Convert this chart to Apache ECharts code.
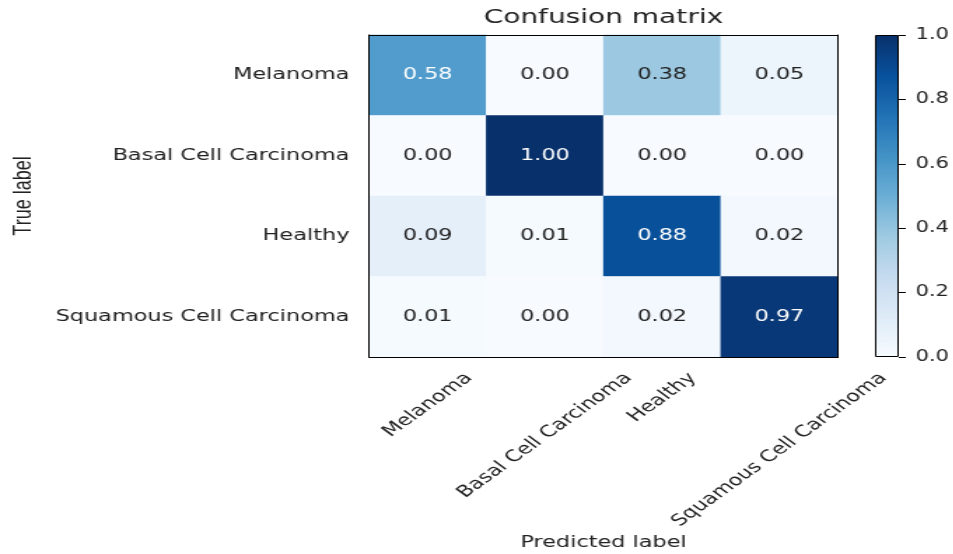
<!DOCTYPE html>
<html>
<head>
<meta charset="utf-8">
<title>Confusion matrix</title>
<script src="https://cdn.jsdelivr.net/npm/echarts@6.0.0/dist/echarts.min.js"></script>
<style>
  html, body { margin: 0; padding: 0; background: #fff; overflow: hidden; }
  /* the source picture is stretched sideways, so the chart is too */
  #chart { width: 681px; height: 554px; transform: scaleX(1.4); transform-origin: 0 0; }
</style>
</head>
<body>
<div id="chart"></div>
<script>
var classNames = ['Melanoma', 'Basal Cell Carcinoma', 'Healthy', 'Squamous Cell Carcinoma'];
// rows = true label, columns = predicted label
var rowMelanoma = [0.58, 0.00, 0.38, 0.05];
var rowBasal = [0.00, 1.00, 0.00, 0.00];
var rowHealthy = [0.09, 0.01, 0.88, 0.02];
var rowSquamous = [0.01, 0.00, 0.02, 0.97];
var colorbarTicks = [0.0, 0.2, 0.4, 0.6, 0.8, 1.0];
var bluesColors = ['#f7fbff', '#deebf7', '#c6dbef', '#9ecae1', '#6baed6', '#4292c6', '#2171b5', '#08519c', '#08306b'];

var FONT = 'DejaVu Sans',
  TEXT_COLOR = '#222';

function textWidth(text, font) {
  var ctx = document.createElement('canvas').getContext('2d');
  ctx.font = font;
  return ctx.measureText(text).width;
}

// rotated labels are centred under the tick like matplotlib does (ha='center'):
// shift every label straight down by half of its own rotated box,
// split into an along-text part (right padding) and a across-text part (top padding)
function rotatedLabels(names) {
  return names.map(function (name) {
    var box = (textWidth(name, '16px "' + FONT + '"') + 18.6) / Math.SQRT2,
      drop = 4 + box / 2,
      right = Math.SQRT2 * drop,
      top = Math.max(0, drop / Math.SQRT2 - 8);
    return {
      value: name,
      textStyle: { align: 'center', verticalAlign: 'top', padding: [top, right, 0, 0] }
    };
  });
}

function initMatrix(dom) {
  var myChart = echarts.init(dom),
    matrix = [rowMelanoma, rowBasal, rowHealthy, rowSquamous],
    cells = [],
    stops = [];
  matrix.forEach(function (row, i) {
    row.forEach(function (v, j) {
      cells.push({ value: [j, i, v], label: { color: v > 0.5 ? '#fff' : TEXT_COLOR } });
    });
  });
  bluesColors.slice().reverse().forEach(function (c, i) {
    stops.push({ offset: i / (bluesColors.length - 1), color: c });
  });

  var frameLine = { show: true, lineStyle: { color: '#000', width: 1 } },
    option = {
      animation: false,
      backgroundColor: '#fff',
      textStyle: { fontFamily: FONT },
      title: {
        text: 'Confusion matrix',
        left: 431,
        top: 8,
        padding: 0,
        textAlign: 'center',
        textStyle: { fontFamily: FONT, fontSize: 20, fontWeight: 'normal', color: TEXT_COLOR }
      },
      grid: [
        { left: 263.6, top: 35, width: 335, height: 322, outerBoundsMode: 'none' },
        { left: 625, top: 35, width: 17, height: 322, outerBoundsMode: 'none' }
      ],
      visualMap: {
        show: false,
        seriesIndex: 0,
        dimension: 2,
        min: colorbarTicks[0],
        max: colorbarTicks[colorbarTicks.length - 1],
        inRange: { color: bluesColors }
      },
      xAxis: [
        {
          gridIndex: 0,
          type: 'category',
          data: rotatedLabels(classNames),
          position: 'bottom',
          name: 'Predicted label',
          nameLocation: 'middle',
          nameGap: 178,
          nameMoveOverlap: false,
          nameTextStyle: { fontFamily: FONT, fontSize: 16, color: TEXT_COLOR },
          axisLine: frameLine,
          axisTick: { alignWithLabel: true, length: 5, lineStyle: { color: '#000' } },
          axisLabel: {
            interval: 0,
            rotate: 45,
            margin: 8,
            fontFamily: FONT,
            fontSize: 16,
            color: TEXT_COLOR
          },
          splitLine: { show: false },
          z: 10
        },
        {
          gridIndex: 0,
          type: 'category',
          data: classNames,
          position: 'top',
          axisLine: frameLine,
          axisTick: { show: false },
          axisLabel: { show: false },
          z: 10
        },
        {
          gridIndex: 1,
          type: 'category',
          data: [''],
          axisLine: { show: false },
          axisTick: { show: false },
          axisLabel: { show: false }
        }
      ],
      yAxis: [
        {
          gridIndex: 0,
          type: 'category',
          data: classNames,
          inverse: true,
          name: 'True label',
          nameLocation: 'middle',
          nameRotate: 90,
          nameGap: 238,
          nameMoveOverlap: false,
          nameTextStyle: { fontFamily: 'Liberation Sans', fontSize: 18, color: TEXT_COLOR },
          axisLine: frameLine,
          axisTick: { alignWithLabel: true, length: 5, lineStyle: { color: '#000' } },
          axisLabel: { interval: 0, margin: 14, fontFamily: FONT, fontSize: 16, color: TEXT_COLOR },
          splitLine: { show: false },
          z: 10
        },
        {
          gridIndex: 0,
          type: 'category',
          data: classNames,
          inverse: true,
          position: 'right',
          axisLine: frameLine,
          axisTick: { show: false },
          axisLabel: { show: false },
          z: 10
        },
        {
          gridIndex: 1,
          type: 'value',
          position: 'right',
          min: colorbarTicks[0],
          max: colorbarTicks[colorbarTicks.length - 1],
          interval: colorbarTicks[1] - colorbarTicks[0],
          axisLine: { show: false },
          axisTick: { show: true, length: 5, lineStyle: { color: '#000' } },
          axisLabel: {
            margin: 12,
            fontFamily: FONT,
            fontSize: 15,
            color: TEXT_COLOR,
            formatter: function (v) { return v.toFixed(1); }
          },
          splitLine: { show: false }
        }
      ],
      series: [
        {
          type: 'heatmap',
          xAxisIndex: 0,
          yAxisIndex: 0,
          data: cells,
          label: {
            show: true,
            fontFamily: FONT,
            fontSize: 16,
            formatter: function (p) { return p.value[2].toFixed(2); }
          },
          itemStyle: { borderWidth: 0 },
          emphasis: { disabled: true }
        },
        {
          // colorbar
          type: 'bar',
          xAxisIndex: 2,
          yAxisIndex: 2,
          data: [colorbarTicks[colorbarTicks.length - 1]],
          barWidth: '100%',
          silent: true,
          itemStyle: {
            color: new echarts.graphic.LinearGradient(0, 0, 0, 1, stops),
            borderColor: '#000',
            borderWidth: 1
          }
        }
      ]
    };
  myChart.setOption(option, true);
}

initMatrix(document.getElementById('chart'));
</script>
</body>
</html>
